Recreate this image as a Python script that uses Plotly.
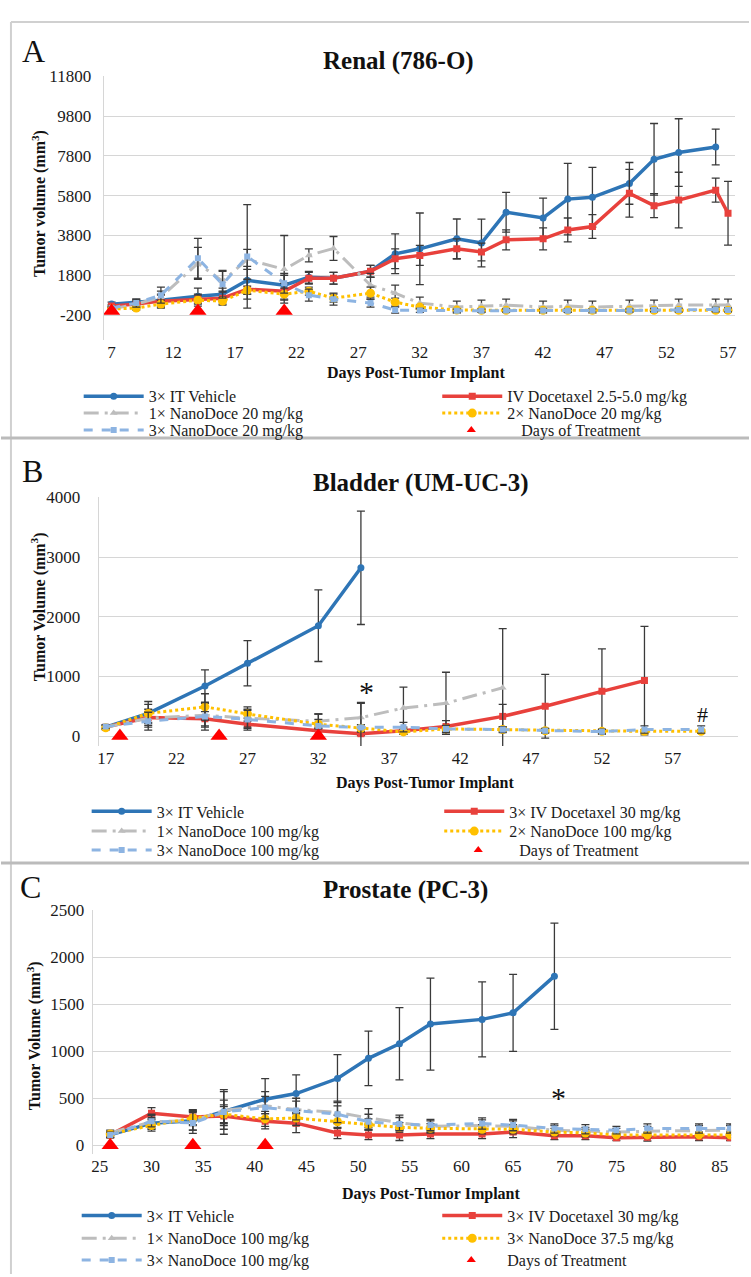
import plotly.graph_objects as go

W, H = 751, 1277
SERIF = "Liberation Serif, Times New Roman, serif"

# ---------------- Panel A : Renal (786-O) ----------------
days_A = [7, 9, 11, 14, 16, 18, 21, 23, 25, 28, 30, 32, 35, 37, 39, 42, 44, 46, 49, 51, 53, 56, 57]
vehicle_A = [350, 450, 550, 750, 850, 1550, 1300, 1700, 1650, 2000, 2880, 3130, 3630, 3420, 4970,
             4680, 5630, 5720, 6420, 7630, 7970, 8250]
vehicle_A_err = [100, 150, 300, 400, 300, 700, 500, 300, 300, 300, 1000, 1800, 1000, 1200, 1000,
                 1000, 1800, 1500, 1050, 1800, 1700, 900]
docetaxel_A = [250, 350, 500, 600, 650, 1100, 1000, 1650, 1650, 2000, 2630, 2800, 3130, 2970, 3580,
               3630, 4080, 4250, 5920, 5300, 5580, 6080, 4920]
docetaxel_A_err = [80, 150, 300, 200, 300, 500, 400, 300, 300, 300, 500, 500, 500, 450, 500,
                   550, 600, 600, 1200, 600, 1400, 600, 1600]
nd1_A = [100, 350, 700, 2400, 1500, 2600, 2100, 2800, 3150, 1300, 900, 400, 200, 250, 300,
         200, 250, 200, 250, 250, 300, 300, 300]
nd1_A_err = [80, 200, 300, 800, 500, 500, 1700, 330, 600, 600, 400, 300, 300, 300, 300,
             300, 300, 300, 300, 300, 300, 300, 300]
nd2_A = [100, 150, 350, 550, 500, 1050, 850, 1000, 650, 900, 450, 200, 50, 40, 40,
         40, 40, 40, 40, 40, 40, 40, 40]
nd2_A_err = [80, 100, 200, 300, 200, 200, 300, 200, 200, 300, 200, 100, 50, 50, 50,
             50, 50, 50, 50, 50, 50, 50, 50]
nd3_A = [150, 400, 800, 2650, 1350, 2750, 1400, 800, 600, 400, 50, 30, 20, 20, 30,
         30, 20, 30, 30, 50, 50, 80, 60]
nd3_A_err = [100, 200, 400, 1000, 700, 2600, 500, 300, 300, 200, 150, 100, 80, 80, 80,
             80, 80, 80, 80, 80, 100, 120, 100]
treat_A = [7, 14, 21]
yticks_A = [-200, 1800, 3800, 5800, 7800, 9800, 11800]
xticks_A = [7, 12, 17, 22, 27, 32, 37, 42, 47, 52, 57]

# ---------------- Panel B : Bladder (UM-UC-3) ----------------
days_B = [17, 20, 24, 27, 32, 35, 38, 41, 45, 48, 52, 55, 59]
vehicle_B = [150, 380, 840, 1220, 1850, 2820]
vehicle_B_err = [40, 150, 270, 380, 600, 950]
docetaxel_B = [150, 310, 290, 200, 90, 40, 90, 160, 330, 500, 750, 930]
docetaxel_B_err = [30, 100, 120, 100, 60, 30, 60, 100, 200, 535, 711, 910]
nd1_B = [150, 300, 350, 300, 250, 310, 470, 550, 810]
nd1_B_err = [30, 150, 200, 150, 120, 240, 350, 520, 990]
nd2_B = [140, 380, 490, 370, 200, 130, 70, 120, 110, 90, 80, 80, 80]
nd2_B_err = [30, 200, 220, 120, 80, 60, 40, 50, 40, 30, 30, 30, 30]
nd3_B = [160, 250, 330, 280, 170, 145, 150, 120, 110, 90, 75, 110, 110]
nd3_B_err = [30, 150, 230, 150, 200, 420, 80, 60, 50, 40, 40, 60, 60]
treat_B = [18, 25, 32]
yticks_B = [0, 1000, 2000, 3000, 4000]
xticks_B = [17, 22, 27, 32, 37, 42, 47, 52, 57]

# ---------------- Panel C : Prostate (PC-3) ----------------
days_C = [26, 30, 34, 37, 41, 44, 48, 51, 54, 57, 62, 65, 69, 72, 75, 78, 83, 86]
vehicle_C = [110, 235, 260, 360, 490, 550, 710, 925, 1080, 1290, 1340, 1410, 1800]
vehicle_C_err = [30, 60, 100, 120, 220, 200, 255, 290, 385, 490, 400, 410, 566]
docetaxel_C = [110, 340, 300, 310, 255, 235, 130, 110, 110, 120, 120, 140, 100, 100, 80, 85, 90, 80]
docetaxel_C_err = [30, 60, 80, 100, 80, 100, 60, 50, 60, 50, 50, 60, 40, 40, 30, 40, 40, 30]
nd1_C = [130, 250, 260, 370, 420, 380, 350, 290, 240, 200, 210, 200, 160, 150, 140, 150, 160, 160]
nd1_C_err = [30, 80, 100, 200, 150, 120, 120, 100, 80, 60, 60, 60, 50, 40, 40, 50, 50, 50]
nd2_C = [120, 210, 290, 330, 280, 290, 250, 220, 190, 180, 170, 170, 140, 130, 110, 110, 110, 110]
nd2_C_err = [30, 60, 80, 100, 80, 80, 70, 60, 50, 50, 50, 50, 40, 40, 30, 30, 30, 30]
nd3_C = [110, 255, 237, 354, 400, 370, 330, 250, 225, 214, 232, 214, 178, 170, 160, 178, 178, 178]
nd3_C_err = [30, 60, 110, 237, 120, 100, 90, 80, 70, 60, 60, 60, 50, 50, 40, 50, 50, 50]
treat_C = [26, 34, 41]
yticks_C = [0, 500, 1000, 1500, 2000, 2500]
xticks_C = [25, 30, 35, 40, 45, 50, 55, 60, 65, 70, 75, 80, 85]

# ---------------- styling ----------------
C_VEH = "#2E75B6"
C_DOC = "#E8413C"
C_ND1 = "#BDBDBD"
C_ND2 = "#FFC000"
C_ND3 = "#8DB4E2"
C_TRT = "#FF0000"
C_ERR = "#3A3A3A"


def px_x(v):
    return v / W


def px_y(v):
    return 1 - v / H


fig = go.Figure()
legend_layouts = {}
legend_count = [0]
LEG_FONT = dict(family=SERIF, size=16, color="#1a1a1a")


def new_legend(x_text, y_row, iw=60):
    legend_count[0] += 1
    key = "legend" if legend_count[0] == 1 else "legend%d" % legend_count[0]
    legend_layouts[key] = dict(
        x=px_x(x_text - iw - 10), y=px_y(y_row), xanchor="left", yanchor="middle",
        orientation="v", itemwidth=iw, font=LEG_FONT,
        bgcolor="rgba(0,0,0,0)", borderwidth=0)
    return key


def add_series(name, x, y, err, color, dash, symbol, msize, lw, ax, pos):
    fig.add_trace(go.Scatter(
        x=x[:len(y)], y=y, name=name, mode="lines+markers",
        line=dict(color=color, width=lw, dash=dash),
        marker=dict(color=color, symbol=symbol, size=msize),
        error_y=dict(type="data", array=err, color=C_ERR, thickness=1.3, width=4),
        xaxis="x" + ax, yaxis="y" + ax, legend=new_legend(*pos)))


def add_treatment(days, ax, pos):
    fig.add_trace(go.Scatter(
        x=days, y=[0] * len(days), mode="markers", showlegend=False,
        marker=dict(color=C_TRT, symbol="triangle-up", size=15),
        xaxis="x" + ax, yaxis="y" + ax, hoverinfo="skip"))
    fig.add_trace(go.Scatter(
        x=[None], y=[None], mode="markers", name="Days of Treatment",
        marker=dict(color=C_TRT, symbol="triangle-up", size=8),
        xaxis="x" + ax, yaxis="y" + ax, legend=new_legend(*pos)))


# Panel A  (legend text x, row y in px)
LA, RA = 148, 508
add_series("3× IT Vehicle", days_A, vehicle_A, vehicle_A_err, C_VEH, "solid", "circle", 7, 3.5, "", (LA, 391))
add_series("IV Docetaxel 2.5-5.0 mg/kg", days_A, docetaxel_A, docetaxel_A_err, C_DOC, "solid", "square", 7, 3.5, "", (RA, 391))
add_series("1× NanoDoce 20 mg/kg", days_A, nd1_A, nd1_A_err, C_ND1, "longdashdot", "triangle-up", 7, 3, "", (LA, 408))
add_series("2× NanoDoce 20 mg/kg", days_A, nd2_A, nd2_A_err, C_ND2, "dot", "circle", 9, 3, "", (RA, 408))
add_series("3× NanoDoce 20 mg/kg", days_A, nd3_A, nd3_A_err, C_ND3, "dash", "square", 6, 3, "", (LA, 425))
add_treatment(treat_A, "", (522, 425, 90))

# Panel B
LB, RB = 156, 510
add_series("3× IT Vehicle", days_B, vehicle_B, vehicle_B_err, C_VEH, "solid", "circle", 7, 3.5, "2", (LB, 810))
add_series("3× IV Docetaxel 30 mg/kg", days_B, docetaxel_B, docetaxel_B_err, C_DOC, "solid", "square", 7, 3.5, "2", (RB, 810))
add_series("1× NanoDoce 100 mg/kg", days_B, nd1_B, nd1_B_err, C_ND1, "longdashdot", "triangle-up", 7, 3, "2", (LB, 830))
add_series("2× NanoDoce 100 mg/kg", days_B, nd2_B, nd2_B_err, C_ND2, "dot", "circle", 9, 3, "2", (RB, 830))
add_series("3× NanoDoce 100 mg/kg", days_B, nd3_B, nd3_B_err, C_ND3, "dash", "square", 6, 3, "2", (LB, 849))
add_treatment(treat_B, "2", (520, 849, 72))

# Panel C
LC, RC = 146, 508
add_series("3× IT Vehicle", days_C, vehicle_C, vehicle_C_err, C_VEH, "solid", "circle", 7, 3.5, "3", (LC, 1218))
add_series("3× IV Docetaxel 30 mg/kg", days_C, docetaxel_C, docetaxel_C_err, C_DOC, "solid", "square", 7, 3.5, "3", (RC, 1218))
add_series("1× NanoDoce 100 mg/kg", days_C, nd1_C, nd1_C_err, C_ND1, "longdashdot", "triangle-up", 7, 3, "3", (LC, 1241))
add_series("3× NanoDoce 37.5 mg/kg", days_C, nd2_C, nd2_C_err, C_ND2, "dot", "circle", 9, 3, "3", (RC, 1241))
add_series("3× NanoDoce 100 mg/kg", days_C, nd3_C, nd3_C_err, C_ND3, "dash", "square", 6, 3, "3", (LC, 1263))
add_treatment(treat_C, "3", (508, 1263, 62))

# ---------------- axes ----------------
tickfont = dict(family=SERIF, size=17, color="#1a1a1a")


def xaxis_cfg(x0, x1, rng, ticks, anchor):
    return dict(domain=[px_x(x0), px_x(x1)], range=rng, tickmode="array", tickvals=ticks,
                ticktext=[str(t) for t in ticks],
                showgrid=False, zeroline=False, showline=False, ticks="",
                tickfont=tickfont, anchor=anchor, fixedrange=True)


def yaxis_cfg(top, bottom, rng, ticks, anchor, standoff):
    return dict(domain=[px_y(bottom), px_y(top)], range=rng, tickmode="array", tickvals=ticks,
                ticktext=[str(t) for t in ticks],
                showgrid=True, gridcolor="#D6D6D6", gridwidth=1, zeroline=False,
                showline=True, linecolor="#D6D6D6", linewidth=1, ticks="",
                tickfont=tickfont, anchor=anchor, fixedrange=True,
                ticklabelstandoff=standoff)


layout = dict(
    width=W, height=H, margin=dict(l=0, r=0, t=0, b=0),
    paper_bgcolor="white", plot_bgcolor="white", showlegend=True,
    font=dict(family=SERIF, color="#1a1a1a"),
    xaxis=xaxis_cfg(103, 737, [6.35, 57.57], xticks_A, "y"),
    yaxis=yaxis_cfg(68, 334, [-1447, 11800], yticks_A, "x", 8),
    xaxis2=xaxis_cfg(98, 740, [16.5, 61.6], xticks_B, "y2"),
    yaxis2=yaxis_cfg(493, 744, [-166, 4000], yticks_B, "x2", 14),
    xaxis3=xaxis_cfg(92, 733, [24.3, 86.1], xticks_C, "y3"),
    yaxis3=yaxis_cfg(910, 1156, [-95, 2500], yticks_C, "x3", 4),
)
layout.update(legend_layouts)
fig.update_layout(**layout)

# ---------------- text ----------------
ann = []


def text_px(x, y, text, size, bold=False, angle=0):
    ann.append(dict(x=px_x(x), y=px_y(y), xref="paper", yref="paper", text=text,
                    showarrow=False, textangle=angle, xanchor="center", yanchor="middle",
                    font=dict(family=SERIF, size=size, color="#111",
                              weight="bold" if bold else "normal")))


# panel letters
text_px(33, 42, "A", 32)
text_px(32, 466, "B", 32)
text_px(30, 886, "C", 32)
# panel titles
text_px(399, 52, "Renal (786-O)", 25, bold=True)
text_px(421, 479, "Bladder (UM-UC-3)", 25, bold=True)
text_px(406, 889, "Prostate (PC-3)", 25, bold=True)
# y-axis titles
text_px(38, 196, "Tumor volume (mm<sup>3</sup>)", 16, bold=True, angle=-90)
text_px(38, 603, "Tumor Volume (mm<sup>3</sup>)", 16, bold=True, angle=-90)
text_px(33, 1036, "Tumor Volume (mm<sup>3</sup>)", 16, bold=True, angle=-90)
# x-axis titles
text_px(417, 367, "Days Post-Tumor Implant", 16, bold=True)
text_px(426, 781, "Days Post-Tumor Implant", 16, bold=True)
text_px(432, 1196, "Days Post-Tumor Implant", 16, bold=True)

# significance marks (data coordinates)
ann.append(dict(x=35.4, y=750, xref="x2", yref="y2", text="*", showarrow=False,
                font=dict(family=SERIF, size=30, color="#111")))
ann.append(dict(x=59.1, y=360, xref="x2", yref="y2", text="#", showarrow=False,
                font=dict(family=SERIF, size=22, color="#111")))
ann.append(dict(x=69.4, y=510, xref="x3", yref="y3", text="*", showarrow=False,
                font=dict(family=SERIF, size=30, color="#111")))

fig.update_layout(annotations=ann)

# panel frames / separators
shapes = [
    dict(type="line", xref="paper", yref="paper", x0=px_x(10), x1=1, y0=px_y(13), y1=px_y(13),
         line=dict(color="#D0D0D0", width=2)),
    dict(type="line", xref="paper", yref="paper", x0=px_x(10), x1=px_x(10), y0=px_y(13), y1=px_y(1277),
         line=dict(color="#D0D0D0", width=2)),
    dict(type="line", xref="paper", yref="paper", x0=0, x1=1, y0=px_y(433), y1=px_y(433),
         line=dict(color="#BBBBBB", width=3)),
    dict(type="line", xref="paper", yref="paper", x0=0, x1=1, y0=px_y(862), y1=px_y(862),
         line=dict(color="#BBBBBB", width=3)),
]
fig.update_layout(shapes=shapes)

# remove the default page margin so the figure sits at the window origin; hide the toolbar
fig.write_html("out.html", config={"displayModeBar": False},
               post_script="document.body.style.margin='0';document.body.style.overflow='hidden';")
